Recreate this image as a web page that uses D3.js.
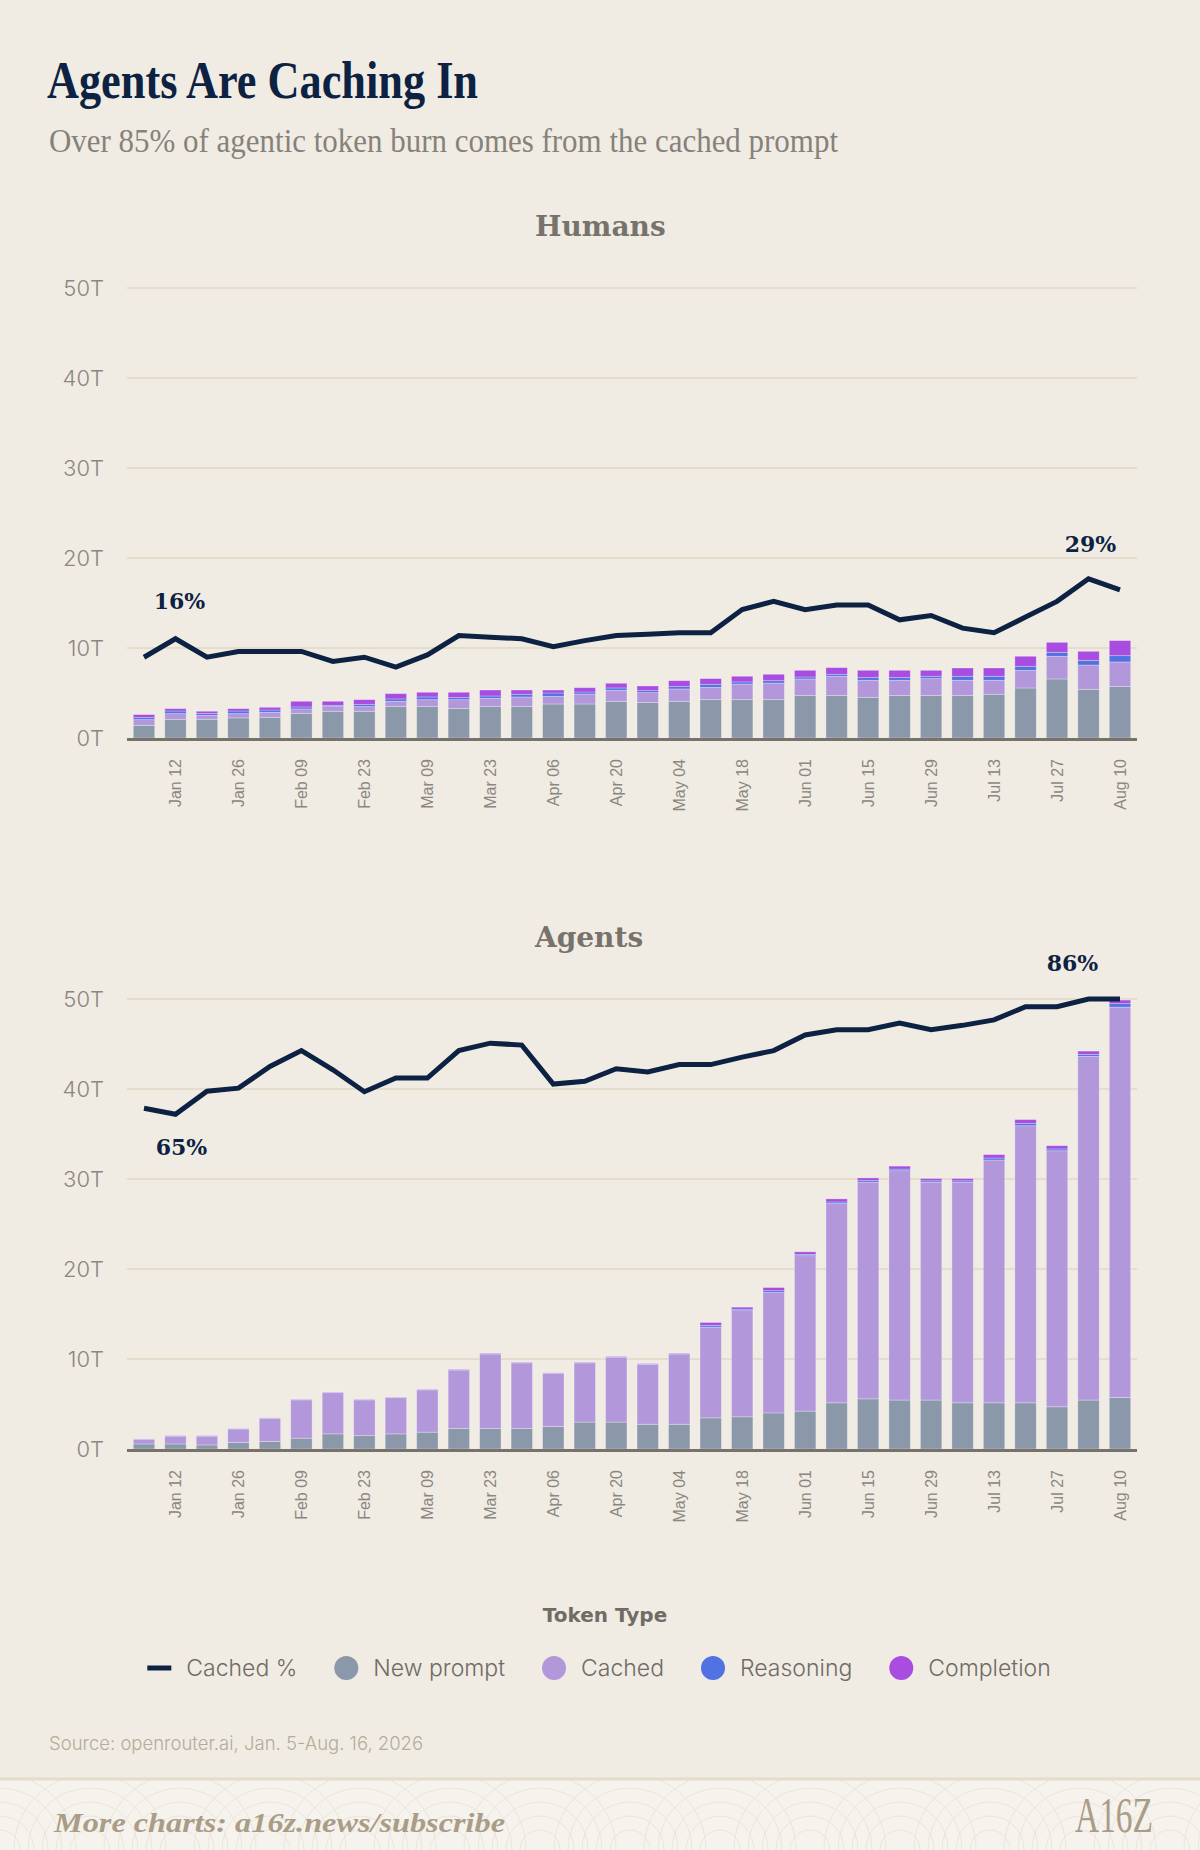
<!DOCTYPE html>
<html>
<head>
<meta charset="utf-8">
<script src="https://cdn.jsdelivr.net/npm/d3@7"></script>
<style>
  body { margin: 0; background: #f0ece4; }
  svg { display: block; }
</style>
</head>
<body>
<div id="chart"></div>
<script>

// weekly buckets, Jan 05 .. Aug 10
var weeks = ["Jan 05", "Jan 12", "Jan 19", "Jan 26", "Feb 02", "Feb 09", "Feb 16", "Feb 23",
    "Mar 02", "Mar 09", "Mar 16", "Mar 23", "Mar 30", "Apr 06", "Apr 13", "Apr 20",
    "Apr 27", "May 04", "May 11", "May 18", "May 25", "Jun 01", "Jun 08", "Jun 15",
    "Jun 22", "Jun 29", "Jul 06", "Jul 13", "Jul 20", "Jul 27", "Aug 03", "Aug 10"];

var yTicks = [0, 10, 20, 30, 40, 50];

// Humans, trillions of tokens
var humansNewPrompt = [1.41, 2.08, 2.08, 2.23, 2.3, 2.71, 2.97, 2.97, 3.52, 3.52, 3.27, 3.52, 3.52, 3.78, 3.78, 4.08,
    3.93, 4.08, 4.26, 4.26, 4.26, 4.71, 4.71, 4.52, 4.71, 4.71, 4.71, 4.86, 5.56, 6.56, 5.41, 5.71];
var humansCached = [0.63, 0.63, 0.44, 0.48, 0.56, 0.52, 0.52, 0.52, 0.56, 0.74, 0.99, 0.89, 1.04, 0.85, 1.11, 1.22,
    1.11, 1.37, 1.37, 1.74, 1.85, 1.85, 2.15, 1.89, 1.7, 1.89, 1.7, 1.55, 1.96, 2.52, 2.7, 2.74];
var humansReasoning = [0.22, 0.29, 0.19, 0.29, 0.25, 0.22, 0.14, 0.25, 0.26, 0.3, 0.23, 0.26, 0.3, 0.37, 0.22, 0.26,
    0.22, 0.26, 0.34, 0.23, 0.26, 0.22, 0.22, 0.3, 0.3, 0.26, 0.45, 0.45, 0.45, 0.44, 0.52, 0.7];
var humansCompletion = [0.34, 0.26, 0.26, 0.26, 0.3, 0.63, 0.45, 0.52, 0.59, 0.52, 0.59, 0.66, 0.47, 0.33, 0.48, 0.52,
    0.52, 0.66, 0.63, 0.63, 0.71, 0.74, 0.74, 0.81, 0.81, 0.66, 0.92, 0.92, 1.11, 1.11, 1.0, 1.67];
var humansCachedPct = [12.0, 16.0, 12.0, 13.25, 13.25, 13.25, 11.1, 12.0, 9.85, 12.5, 16.7, 16.35, 16.0, 14.3, 15.6, 16.7,
    17.0, 17.3, 17.3, 22.35, 24.1, 22.3, 23.3, 23.3, 20.1, 21.05, 18.3, 17.3, 20.7, 24.1, 29.0, 26.6];

// Agents, trillions of tokens
var agentsNewPrompt = [0.56, 0.56, 0.45, 0.72, 0.84, 1.2, 1.68, 1.48, 1.68, 1.87, 2.27, 2.27, 2.27, 2.51, 2.99, 2.99,
    2.75, 2.75, 3.46, 3.58, 4.01, 4.21, 5.13, 5.57, 5.44, 5.44, 5.13, 5.13, 5.13, 4.69, 5.44, 5.72];
var agentsCached = [0.52, 0.88, 0.99, 1.51, 2.56, 4.26, 4.58, 3.98, 4.02, 4.7, 6.51, 8.29, 7.3, 5.87, 6.58, 7.22,
    6.66, 7.81, 10.08, 11.79, 13.38, 17.27, 22.14, 24.08, 25.48, 24.21, 24.52, 26.98, 30.79, 28.45, 38.18, 43.38];
var agentsReasoning = [0.02, 0.02, 0.02, 0.02, 0.03, 0.03, 0.03, 0.03, 0.03, 0.03, 0.04, 0.04, 0.04, 0.04, 0.04, 0.04,
    0.04, 0.04, 0.2, 0.16, 0.2, 0.15, 0.18, 0.17, 0.18, 0.15, 0.15, 0.22, 0.25, 0.2, 0.22, 0.38];
var agentsCompletion = [0.02, 0.02, 0.02, 0.02, 0.03, 0.03, 0.03, 0.03, 0.03, 0.03, 0.04, 0.04, 0.04, 0.04, 0.04, 0.04,
    0.04, 0.04, 0.32, 0.23, 0.35, 0.28, 0.34, 0.3, 0.33, 0.25, 0.25, 0.38, 0.43, 0.36, 0.37, 0.4];
var agentsCachedPct = [66.1, 65.0, 69.2, 69.75, 73.7, 76.6, 73.1, 69.1, 71.6, 71.6, 76.6, 77.95, 77.6, 70.5, 71.0, 73.3,
    72.7, 74.05, 74.05, 75.4, 76.6, 79.45, 80.4, 80.4, 81.6, 80.4, 81.2, 82.2, 84.6, 84.6, 86.0, 86.0];

// callouts on the line: [week index, label]
var humansCallouts = [[1, "16%"], [30, "29%"]];
var agentsCallouts = [[1, "65%"], [30, "86%"]];

var tokenTypes = ["New prompt", "Cached", "Reasoning", "Completion"];
var tokenColors = ["#8a98aa", "#b298db", "#5272e2", "#a84de0"];
var lineColor = "#0d2242";

var svgWidth = 1200, svgHeight = 1850;
var margin = { left: 127, right: 63 };
var width = svgWidth - margin.left - margin.right;
var plotHeight = 450;

var svg = d3.select("#chart")
    .append("svg")
    .attr("width", svgWidth)
    .attr("height", svgHeight);

svg.append("rect")
    .attr("width", svgWidth)
    .attr("height", svgHeight)
    .attr("fill", "#f0ece4");

// title + subtitle
svg.append("text")
    .attr("x", 47)
    .attr("y", 98)
    .attr("textLength", 431)
    .attr("lengthAdjust", "spacingAndGlyphs")
    .style("font-family", "'Liberation Serif', serif")
    .style("font-weight", 700)
    .style("font-size", "52px")
    .attr("fill", "#0d2242")
    .text("Agents Are Caching In");

svg.append("text")
    .attr("x", 49)
    .attr("y", 152)
    .attr("textLength", 789)
    .attr("lengthAdjust", "spacingAndGlyphs")
    .style("font-family", "'Liberation Serif', serif")
    .style("font-size", "34px")
    .attr("fill", "#86827b")
    .text("Over 85% of agentic token burn comes from the cached prompt");

var x = d3.scaleBand()
    .domain(weeks)
    .range([0, width])
    .paddingInner(0.32)
    .paddingOuter(0.2);

var stack = d3.stack().keys([0, 1, 2, 3]);

function drawPanel(opts) {
    var g = svg.append("g")
        .attr("transform", `translate(${margin.left}, ${opts.top})`);

    var y = d3.scaleLinear().domain([0, 50]).range([plotHeight, 0]);
    var yPct = d3.scaleLinear().domain(opts.pctDomain).range([plotHeight, 0]);

    // panel title
    g.append("text")
        .attr("x", 535 - margin.left)
        .attr("y", -52)
        .style("font-family", "'DejaVu Serif', serif")
        .style("font-weight", 700)
        .style("font-size", "28px")
        .attr("fill", "#77736c")
        .text(opts.title);

    // gridlines
    g.selectAll(".grid")
        .data(yTicks.filter(d => d > 0))
        .enter()
        .append("line")
        .attr("x1", 0)
        .attr("x2", width)
        .attr("y1", d => y(d))
        .attr("y2", d => y(d))
        .attr("stroke", "#e4ddcc")
        .attr("stroke-width", 2);

    // y labels
    g.selectAll(".ylab")
        .data(yTicks)
        .enter()
        .append("text")
        .attr("x", 104 - margin.left)
        .attr("y", d => y(d))
        .attr("dy", "0.36em")
        .attr("text-anchor", "end")
        .style("font-family", "Inter, sans-serif")
        .style("font-weight", 300)
        .style("font-size", "22px")
        .attr("fill", "#8a8680")
        .text(d => d + "T");

    // stacked bars
    var rows = weeks.map((w, i) => opts.series.map(s => s[i]));
    var layers = stack(rows);

    g.selectAll(".layer")
        .data(layers)
        .enter()
        .append("g")
        .attr("fill", (d, i) => tokenColors[i])
        .selectAll("rect")
        .data(d => d)
        .enter()
        .append("rect")
        .attr("x", (d, i) => x(weeks[i]))
        .attr("width", x.bandwidth())
        .attr("y", d => y(d[1]))
        .attr("height", d => y(d[0]) - y(d[1]))
        .attr("stroke", "rgba(255,255,255,0.35)")
        .attr("stroke-width", 0.8);

    // baseline
    g.append("line")
        .attr("x1", 0)
        .attr("x2", width)
        .attr("y1", plotHeight + 1.5)
        .attr("y2", plotHeight + 1.5)
        .attr("stroke", "#77736b")
        .attr("stroke-width", 3);

    // x tick labels (every other week)
    g.selectAll(".xlab")
        .data(weeks.filter((d, i) => i % 2 === 1))
        .enter()
        .append("text")
        .attr("transform", d => `translate(${x(d) + x.bandwidth() / 2}, ${plotHeight + 21}) rotate(-90)`)
        .attr("dy", "0.35em")
        .attr("text-anchor", "end")
        .style("font-family", "'Liberation Sans', Arial, sans-serif")
        .style("font-size", "16px")
        .attr("fill", "#8a8680")
        .text(d => d);

    // cached % line
    var line = d3.line()
        .x((d, i) => x(weeks[i]) + x.bandwidth() / 2)
        .y(d => yPct(d));

    g.append("path")
        .datum(opts.pct)
        .attr("d", line)
        .attr("fill", "none")
        .attr("stroke", lineColor)
        .attr("stroke-width", 5)
        .attr("stroke-linejoin", "miter");

    g.selectAll(".callout")
        .data(opts.callouts)
        .enter()
        .append("text")
        .attr("x", (d, k) => x(weeks[d[0]]) + x.bandwidth() / 2 + opts.calloutDx[k])
        .attr("y", (d, k) => yPct(opts.pct[d[0]]) + opts.calloutDy[k])
        .attr("text-anchor", "middle")
        .style("font-family", "'DejaVu Serif', serif")
        .style("font-weight", 700)
        .style("font-size", "22px")
        .attr("fill", lineColor)
        .text(d => d[1]);
}

drawPanel({
    title: "Humans",
    top: 288,
    series: [humansNewPrompt, humansCached, humansReasoning, humansCompletion],
    pct: humansCachedPct,
    pctDomain: [-5.5, 92],
    callouts: humansCallouts,
    calloutDx: [4, 2],
    calloutDy: [-30, -27]
});

drawPanel({
    title: "Agents",
    top: 999,
    series: [agentsNewPrompt, agentsCached, agentsReasoning, agentsCompletion],
    pct: agentsCachedPct,
    pctDomain: [4, 86],
    callouts: agentsCallouts,
    calloutDx: [6, -16],
    calloutDy: [41, -28]
});

// legend
svg.append("text")
    .attr("x", 605)
    .attr("y", 1622)
    .attr("text-anchor", "middle")
    .style("font-family", "'DejaVu Sans', sans-serif")
    .style("font-weight", 700)
    .style("font-size", "20px")
    .attr("fill", "#6f6b65")
    .text("Token Type");

var legendItems = ["Cached %"].concat(tokenTypes);
var legend = svg.append("g").attr("transform", "translate(0, 1668)");
var cursor = 0;
var items = legend.selectAll(".item")
    .data(legendItems)
    .enter()
    .append("g");

items.each(function(d, i) {
    var item = d3.select(this);
    if (i === 0) {
        item.append("rect")
            .attr("x", 0).attr("y", -2.5)
            .attr("width", 24).attr("height", 5)
            .attr("fill", lineColor);
    } else {
        item.append("circle")
            .attr("cx", 12).attr("cy", 0).attr("r", 12)
            .attr("fill", tokenColors[i - 1]);
    }
    var t = item.append("text")
        .attr("x", 39)
        .attr("dy", "0.35em")
        .style("font-family", "Inter, sans-serif")
        .style("font-weight", 300)
        .style("font-size", "23px")
        .attr("fill", "#6f6b65")
        .text(d);
    item.attr("transform", `translate(${cursor}, 0)`);
    cursor += 39 + t.node().getComputedTextLength() + 37;
});
var legendWidth = cursor - 37;
legend.attr("transform", `translate(${599 - legendWidth / 2}, 1668)`);

// source
svg.append("text")
    .attr("x", 49)
    .attr("y", 1750)
    .style("font-family", "Inter, sans-serif")
    .style("font-weight", 300)
    .style("font-size", "18.5px")
    .attr("fill", "#b4ab99")
    .text("Source: openrouter.ai, Jan. 5-Aug. 16, 2026");

// footer band
var footer = svg.append("g");
footer.append("clipPath").attr("id", "footclip")
    .append("rect").attr("x", 0).attr("y", 1779).attr("width", svgWidth).attr("height", 71);
footer.append("rect")
    .attr("x", 0).attr("y", 1779)
    .attr("width", svgWidth).attr("height", 71)
    .attr("fill", "#f6f3ee");
var pattern = footer.append("g").attr("clip-path", "url(#footclip)");
d3.range(0, svgWidth + 90, 90).forEach(function(cx) {
    d3.range(20, 80, 14).forEach(function(r) {
        pattern.append("circle")
            .attr("cx", cx).attr("cy", 1850)
            .attr("r", r)
            .attr("fill", "none")
            .attr("stroke", "#ebe5da")
            .attr("stroke-width", 1);
    });
});
footer.append("line")
    .attr("x1", 0).attr("x2", svgWidth)
    .attr("y1", 1779).attr("y2", 1779)
    .attr("stroke", "#e3dccb")
    .attr("stroke-width", 3);

footer.append("text")
    .attr("x", 54)
    .attr("y", 1832)
    .attr("textLength", 451)
    .attr("lengthAdjust", "spacingAndGlyphs")
    .style("font-family", "'Liberation Serif', serif")
    .style("font-weight", 700)
    .style("font-style", "italic")
    .style("font-size", "27px")
    .attr("fill", "#a99d87")
    .text("More charts: a16z.news/subscribe");

footer.append("text")
    .attr("x", 1075)
    .attr("y", 1832)
    .attr("textLength", 78)
    .attr("lengthAdjust", "spacingAndGlyphs")
    .style("font-family", "'Liberation Serif', serif")
    .style("font-size", "50px")
    .attr("fill", "#a99d87")
    .text("A16Z");

</script>
</body>
</html>
